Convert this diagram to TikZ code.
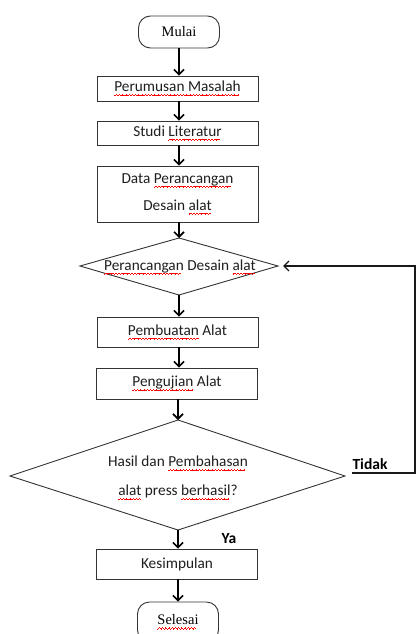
\documentclass[tikz,border=0pt]{standalone}
\usepackage{fontspec}
\setmainfont{Carlito}
\newfontfamily\serifface{Liberation Serif}
\usetikzlibrary{arrows.meta}
\newbox\sqbox
\newcommand\sq[1]{\setbox\sqbox\hbox{#1}\rlap{\color{red}\leaders\hbox{\rule[-4.4pt]{0.8pt}{0.6pt}\rule[-3.8pt]{0.8pt}{0.6pt}\rule[-3.2pt]{0.8pt}{0.6pt}\rule[-3.8pt]{0.8pt}{0.6pt}}\hskip\wd\sqbox}\box\sqbox}
\tikzset{
  calib/.style={font=\fontsize{15.3}{18}\selectfont, text=black!88},
  stepbox/.style={draw=black!80, line width=0.9pt, minimum width=161pt, inner sep=0pt, align=center, calib},
  term/.style={draw=black!80, line width=0.9pt, rounded corners=12pt, minimum width=81pt, minimum height=32pt, inner sep=0pt, align=center, font=\serifface\fontsize{14.5}{17}\selectfont},
  arr/.style={-{Straight Barb[length=5pt,width=10pt]}, line width=1.6pt, black},
  fb/.style={-{Straight Barb[length=5pt,width=10pt]}, line width=1.4pt, black!90, shorten >=5pt},
  edge/.style={draw=black!80, line width=0.9pt},
  lbl/.style={font=\bfseries\fontsize{15.5}{18}\selectfont, inner sep=0pt}
}
\begin{document}
\begin{tikzpicture}[x=1pt,y=-1pt]
\clip (0,0) rectangle (416,634);
\fill[white] (0,0) rectangle (416,634);
% nodes
\node[term] (mulai) at (179,32) {Mulai};
\node[stepbox, minimum height=25pt] (p1) at (177.5,88.5) {\sq{Perumusan Masalah}};
\node[stepbox, minimum height=24pt] (p2) at (177.5,133) {Studi \sq{Literatur}};
\node[stepbox, minimum height=56pt, font=\fontsize{15.3}{27}\selectfont] (p3) at (177.5,194) {Data \sq{Perancangan}\\Desain \sq{alat}};
% diamond 1
\coordinate (d1t) at (179,238);
\coordinate (d1r) at (278,266);
\coordinate (d1b) at (179,295);
\coordinate (d1l) at (80,266);
\draw[edge] (d1t) -- (d1r) -- (d1b) -- (d1l) -- cycle;
\node[calib, align=center, inner sep=0pt] (d1txt) at (180,267) {\sq{Perancangan} Desain \sq{alat}};
\node[stepbox, minimum height=30pt] (p4) at (177.5,332) {\sq{Pembuatan} Alat};
\node[stepbox, minimum height=31pt] (p5) at (177,383.5) {\sq{Pengujian} Alat};
% diamond 2
\coordinate (d2t) at (178,420);
\coordinate (d2r) at (345,476);
\coordinate (d2b) at (178,530);
\coordinate (d2l) at (10,476);
\draw[edge] (d2t) -- (d2r) -- (d2b) -- (d2l) -- cycle;
\node[calib, align=center, inner sep=0pt, font=\fontsize{15.3}{29}\selectfont] (d2txt) at (178,478) {Hasil dan \sq{Pembahasan}\\\sq{alat} press \sq{berhasil}?};
\node[stepbox, minimum height=30pt] (p6) at (177,564) {Kesimpulan};
\node[term, minimum height=40pt] (selesai) at (178,622) {\sq{Selesai}};
% labels
\node[lbl] (tidak) at (370,464) {Tidak};
\node[lbl] (ya) at (229,539) {Ya};
% connectors
\draw[arr] (mulai.south) -- (mulai.south |- p1.north);
\draw[arr] (mulai.south |- p1.south) -- (mulai.south |- p2.north);
\draw[arr] (mulai.south |- p2.south) -- (mulai.south |- p3.north);
\draw[arr] (mulai.south |- p3.south) -- (d1t);
\draw[arr] (d1b) -- (d1b |- p4.north);
\draw[arr] (d1b |- p4.south) -- (d1b |- p5.north);
\draw[arr] (d2t |- p5.south) -- (d2t);
\draw[arr] (d2b) -- (d2b |- p6.north);
\draw[arr] (d2b |- p6.south) -- (d2b |- selesai.north);
% feedback
\coordinate (t0) at (352,473);
\coordinate (t1) at (415,473);
\coordinate (t2) at (415,266);
\draw[fb] (t0) -- (t1) -- (t2) -- (d1r);
\end{tikzpicture}
\end{document}
